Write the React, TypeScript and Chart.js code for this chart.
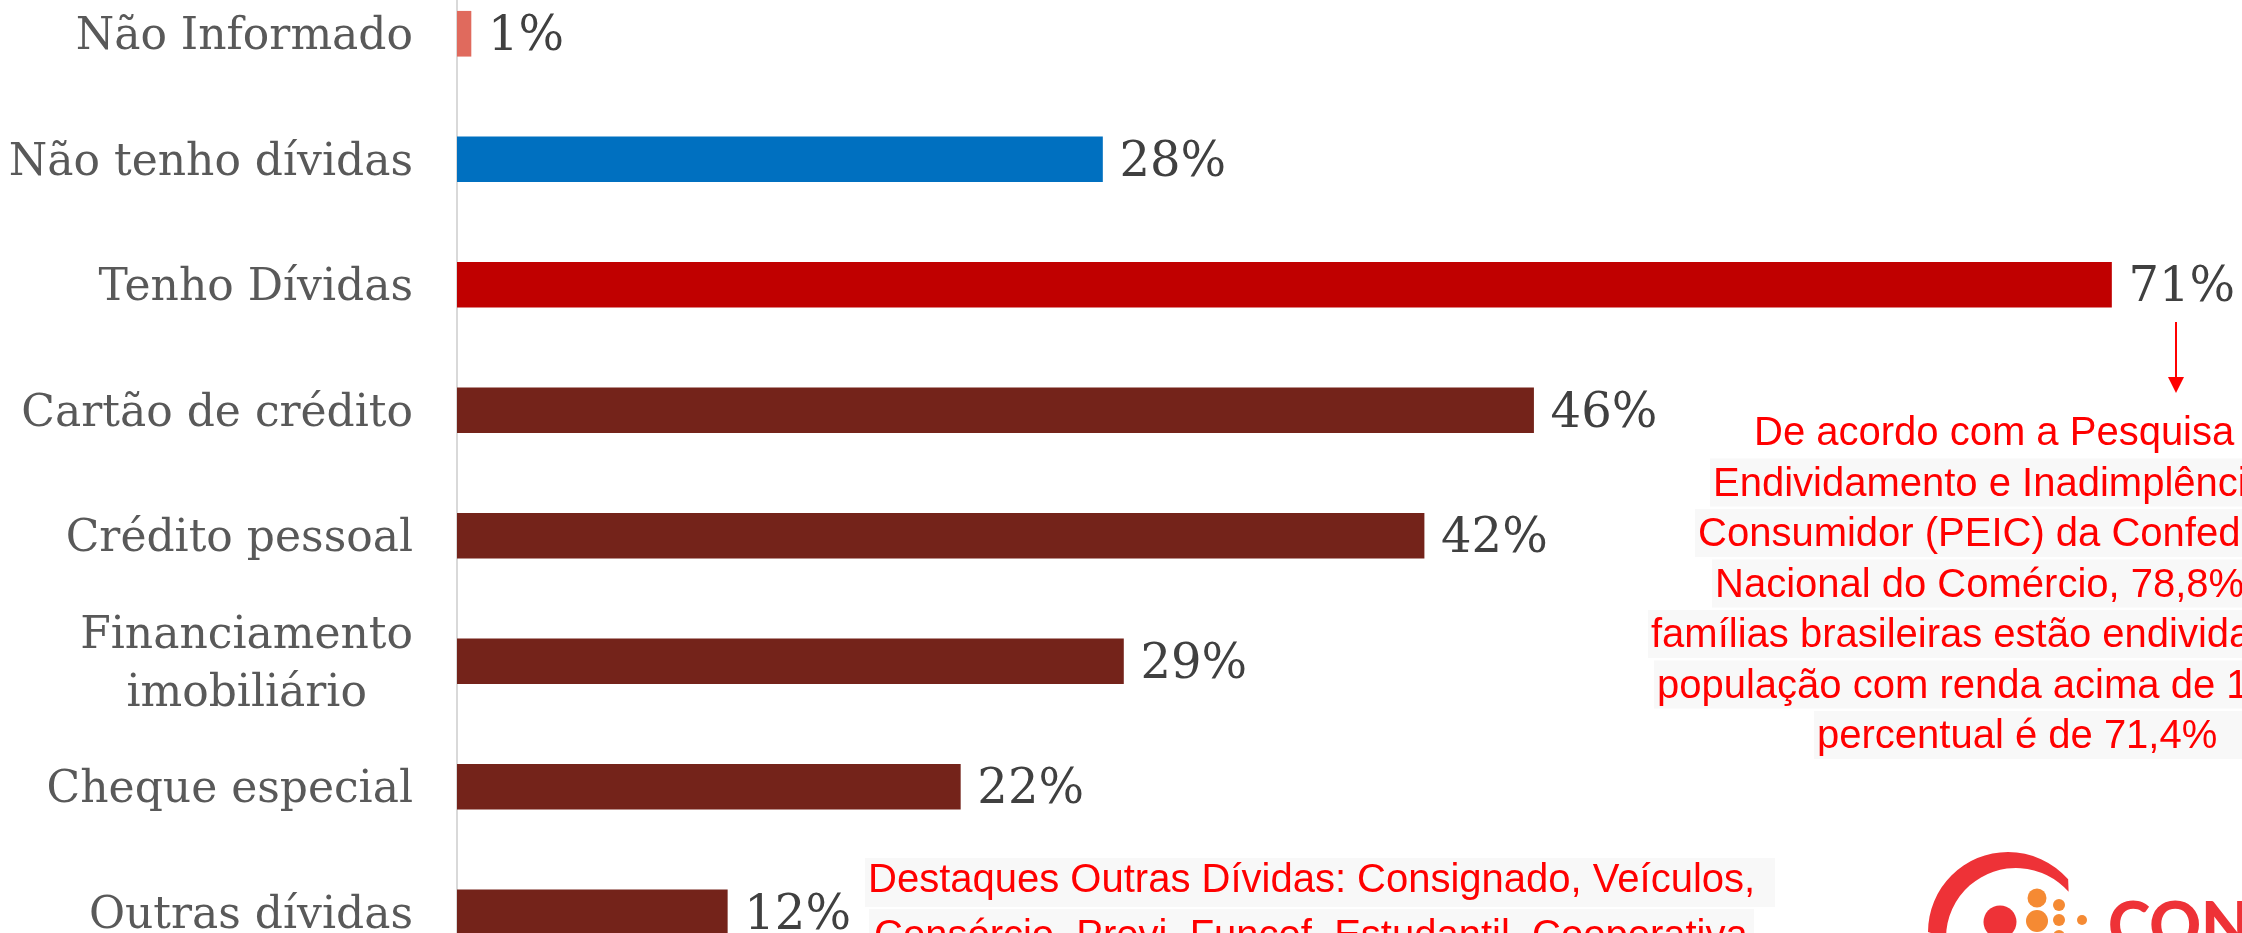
import React, { useEffect, useRef } from 'react';
import { Chart, registerables } from 'chart.js';

Chart.register(...registerables);

// ---- data ----
const categories: (string | string[])[] = [
  'Não Informado',
  'Não tenho dívidas',
  'Tenho Dívidas',
  'Cartão de crédito',
  'Crédito pessoal',
  ['Financiamento', 'imobiliário'],
  'Cheque especial',
  'Outras dívidas',
];
const values = [0.6, 27.7, 71, 46.2, 41.5, 28.6, 21.6, 11.6];
const valueLabels = ['1%', '28%', '71%', '46%', '42%', '29%', '22%', '12%'];
const barColors = ['#E06A5D', '#0070C0', '#C00000', '#74231A', '#74231A', '#74231A', '#74231A', '#74231A'];

const noteLines = [
  'De acordo com a Pesquisa de',
  'Endividamento e Inadimplência do',
  'Consumidor (PEIC) da Confederação',
  'Nacional do Comércio, 78,8% das',
  'famílias brasileiras estão endividadas.',
  'população com renda acima de 10 SM, o',
  'percentual é de 71,4%',
];
const otherDebtLines = [
  'Destaques Outras Dívidas: Consignado, Veículos,',
  'Consórcio, Previ, Funcef, Estudantil, Cooperativa,',
];
const logoText = 'CONTRAF';

// ---- layout ----
const W = 2242;
const TOP = -29; // canvas offset relative to the viewport
const H = 1004;
const AXIS_X = 457;
const X_MAX = 76.6;
const noteX = [1754, 1713, 1698, 1715, 1651, 1657, 1817];
const noteBase0 = 445;
const noteStep = 50.5;

const overlayPlugin = {
  id: 'overlay',
  afterDatasetsDraw(chart: any) {
    const ctx = chart.ctx as CanvasRenderingContext2D;
    const yScale = chart.scales.y;
    const meta = chart.getDatasetMeta(0);
    ctx.save();

    // category labels
    ctx.fillStyle = '#595959';
    ctx.font = "44px 'DejaVu Serif'";
    ctx.textBaseline = 'middle';
    const labelRight = 413;
    categories.forEach((cat, i) => {
      const y = yScale.getPixelForTick(i) + 4;
      if (Array.isArray(cat)) {
        const w = Math.max(...cat.map((l) => ctx.measureText(l).width));
        const cx = labelRight - w / 2;
        const lh = 58;
        ctx.textAlign = 'center';
        cat.forEach((l, k) => {
          ctx.fillText(l, cx, y + (k - (cat.length - 1) / 2) * lh);
        });
      } else {
        ctx.textAlign = 'right';
        ctx.fillText(cat, labelRight, y);
      }
    });

    // value labels
    ctx.fillStyle = '#404040';
    ctx.font = "48px 'DejaVu Serif'";
    ctx.textAlign = 'left';
    meta.data.forEach((bar: any, i: number) => {
      ctx.fillText(valueLabels[i], bar.x + 17, bar.y + 4);
    });

    // annotations in viewport coordinates
    ctx.translate(0, -TOP);

    // arrow
    ctx.strokeStyle = '#FF0000';
    ctx.fillStyle = '#FF0000';
    ctx.lineWidth = 2;
    ctx.beginPath();
    ctx.moveTo(2176, 322);
    ctx.lineTo(2176, 380);
    ctx.stroke();
    ctx.beginPath();
    ctx.moveTo(2168, 377);
    ctx.lineTo(2184, 377);
    ctx.lineTo(2176, 393);
    ctx.closePath();
    ctx.fill();

    // right note
    ctx.font = "40px 'Liberation Sans', Arial, sans-serif";
    ctx.textBaseline = 'alphabetic';
    ctx.textAlign = 'left';
    noteLines.forEach((line, i) => {
      const base = noteBase0 + i * noteStep;
      if (i > 0) {
        ctx.fillStyle = '#F8F8F8';
        ctx.fillRect(noteX[i] - 3, base - 37, W, 48);
      }
      ctx.fillStyle = '#FF0000';
      ctx.fillText(line, noteX[i], base);
    });

    // bottom note
    ctx.fillStyle = '#F8F8F8';
    ctx.fillRect(865, 858, 910, 49);
    ctx.fillRect(869, 909, 885, 60);
    ctx.fillStyle = '#FF0000';
    ctx.fillText(otherDebtLines[0], 868, 892);
    ctx.fillText(otherDebtLines[1], 874, 948);

    // logo
    const red = '#EE3237';
    const orange = '#F58A33';
    ctx.fillStyle = red;
    ctx.beginPath();
    ctx.arc(2008, 932, 80, Math.PI, -0.72, false);
    ctx.arc(2016, 938, 70, -0.72, Math.PI, true);
    ctx.closePath();
    ctx.fill();
    const dots: [number, number, number, string][] = [
      [2000, 922, 16.5, red],
      [2037, 898, 9.5, orange],
      [2037, 921, 11, orange],
      [2037, 945, 9, orange],
      [2059, 905, 6, orange],
      [2059, 920, 6, orange],
      [2059, 936, 6, orange],
      [2082, 920, 5, orange],
    ];
    dots.forEach(([x, y, r, c]) => {
      ctx.fillStyle = c;
      ctx.beginPath();
      ctx.arc(x, y, r, 0, Math.PI * 2);
      ctx.fill();
    });
    ctx.fillStyle = red;
    ctx.font = "900 64px Lato, 'Open Sans', sans-serif";
    ctx.fillText(logoText, 2108, 948);

    ctx.restore();
  },
};

export default function App() {
  const ref = useRef<HTMLCanvasElement>(null);
  useEffect(() => {
    if (!ref.current) return;
    const chart = new Chart(ref.current, {
      type: 'bar',
      data: {
        labels: categories as any,
        datasets: [
          {
            data: values,
            backgroundColor: barColors,
            barThickness: 45,
          },
        ],
      },
      options: {
        indexAxis: 'y',
        animation: false,
        responsive: false,
        devicePixelRatio: 1,
        layout: { padding: 0 },
        plugins: { legend: { display: false }, tooltip: { enabled: false } },
        scales: {
          x: { display: false, min: 0, max: X_MAX },
          y: {
            ticks: { display: false },
            grid: { display: false, drawTicks: false },
            border: { display: true, color: '#D9D9D9', width: 2 },
            afterFit: (scale: any) => {
              scale.width = AXIS_X;
            },
          },
        },
      },
      plugins: [overlayPlugin],
    });
    return () => chart.destroy();
  }, []);
  return (
    <div style={{ position: 'fixed', left: 0, top: 0, width: W, height: 933, overflow: 'hidden', background: '#fff' }}>
      <canvas ref={ref} width={W} height={H} style={{ position: 'absolute', left: 0, top: TOP, width: W, height: H }} />
    </div>
  );
}
